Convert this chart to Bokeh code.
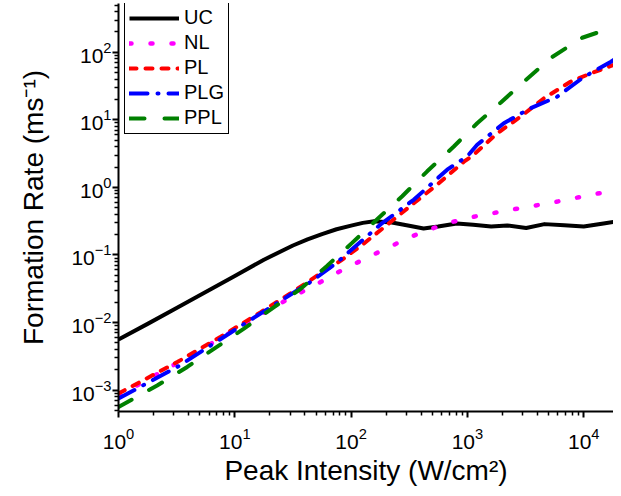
from bokeh.plotting import figure
from bokeh.models import Range1d, FixedTicker, Legend, LegendItem
from bokeh.embed import file_html
from bokeh.resources import INLINE

# ---- data ----
uc_x = [1, 1.78, 3.16, 5.62, 10, 17.8, 31.6, 42.2, 56.2, 75, 100, 126, 158, 224, 300,
        420, 560, 810, 1120, 1600, 2200, 3200, 4600, 6800, 10000, 14800, 20000]
uc_y = [0.00562, 0.00955, 0.0164, 0.0282, 0.049, 0.0851, 0.138, 0.170, 0.204, 0.24,
        0.272, 0.2985, 0.316, 0.302, 0.275, 0.247, 0.263, 0.293, 0.28, 0.263, 0.273,
        0.251, 0.286, 0.275, 0.263, 0.293, 0.316]

nl_x = [1, 2, 4.5, 10, 13, 27, 55, 78, 100, 157, 313, 466, 700, 1050, 2270, 5200,
        11700, 17600, 20000]
nl_y = [0.00083, 0.0016, 0.0035, 0.0078, 0.010, 0.021, 0.040, 0.056, 0.0695, 0.102,
        0.18, 0.237, 0.30, 0.359, 0.46, 0.59, 0.78, 0.89, 0.93]

pl_x = [1, 3.2, 7.5, 16.6, 30, 62, 81, 129, 211, 335, 550, 933, 1122, 1800, 2860,
        4540, 7690, 11430, 19400, 20000]
pl_y = [0.00089, 0.0026, 0.0061, 0.0141, 0.0269, 0.0617, 0.0817, 0.148, 0.293, 0.558,
        1.1, 2.4, 3.0, 6.3, 11.1, 20.8, 36.6, 48.5, 68, 69]

plg_x = [1, 3.2, 12, 45, 76, 179, 347, 670, 995, 1213, 2056, 3467, 5890, 10000,
         17000, 20000]
plg_y = [0.00075, 0.0022, 0.0095, 0.040, 0.078, 0.283, 0.66, 1.83, 2.87, 4.27, 8.9,
         14.8, 21.9, 43, 72, 85]

ppl_x = [1, 2.15, 3.9, 7.06, 11.9, 21.6, 36.7, 62, 102, 173, 275, 451, 764, 1213,
         1928, 3162, 5358, 9705, 14125, 20000]
ppl_y = [0.00056, 0.00117, 0.0022, 0.0044, 0.00805, 0.0168, 0.0313, 0.0689, 0.151,
         0.355, 0.74, 1.73, 4.03, 8.9, 17.9, 38.7, 85, 164, 204, 188]

x_major = [1, 10, 100, 1000, 10000]
y_major = [1e-3, 1e-2, 1e-1, 1, 10, 100]

FONT = "Liberation Sans"

p = figure(width=613, height=488, x_axis_type="log", y_axis_type="log",
           x_range=Range1d(1, 18030), y_range=Range1d(4.82e-4, 527),
           output_backend="svg", toolbar_location=None,
           min_border_left=118, min_border_right=0, min_border_top=3,
           min_border_bottom=75)
p.xgrid.visible = False
p.ygrid.visible = False
p.outline_line_color = None
p.background_fill_color = "white"
p.border_fill_color = "white"

x_minor = [k * d for d in x_major for k in range(2, 10)]
y_minor = [k * d for d in [1e-4] + y_major for k in range(2, 10)]
p.xaxis.ticker = FixedTicker(ticks=x_major, minor_ticks=x_minor)
p.yaxis.ticker = FixedTicker(ticks=y_major, minor_ticks=y_minor)

for ax in (p.xaxis[0], p.yaxis[0]):
    ax.axis_line_width = 2
    ax.axis_line_color = "black"
    ax.major_tick_line_width = 2
    ax.minor_tick_line_width = 1.5
    ax.major_tick_in = 0
    ax.major_tick_out = 6
    ax.minor_tick_in = 0
    ax.minor_tick_out = 4
    ax.major_label_text_font = FONT
    ax.major_label_text_font_size = "21px"
    ax.major_label_text_color = "black"
    ax.axis_label_text_font = FONT
    ax.axis_label_text_font_size = "28px"
    ax.axis_label_text_font_style = "normal"
    ax.axis_label_text_color = "black"

p.xaxis.axis_label = "Peak Intensity (W/cm²)"
p.yaxis.axis_label = "Formation Rate (ms⁻¹)"
p.xaxis.major_label_standoff = 10
p.yaxis.major_label_standoff = 1
p.xaxis.axis_label_standoff = 3
p.yaxis.axis_label_standoff = 19

r_uc = p.line(uc_x, uc_y, line_color="black", line_width=4, line_join="round")
r_nl = p.line(nl_x, nl_y, line_color="#FF00FF", line_width=4.5, line_dash="2 19",
              line_cap="round")
r_pl = p.line(pl_x, pl_y, line_color="#FF0000", line_width=4, line_dash="7 9",
              line_cap="round")
r_plg = p.line(plg_x, plg_y, line_color="#0000FF", line_width=4,
               line_dash="18 10 1 10", line_cap="round")
r_ppl = p.line(ppl_x, ppl_y, line_color="#008000", line_width=4, line_dash="15 20",
               line_cap="round")

legend = Legend(items=[LegendItem(label="UC", renderers=[r_uc]),
                       LegendItem(label="NL", renderers=[r_nl]),
                       LegendItem(label="PL", renderers=[r_pl]),
                       LegendItem(label="PLG", renderers=[r_plg]),
                       LegendItem(label="PPL", renderers=[r_ppl])],
                location=(6, 277))
legend.label_text_font = FONT
legend.label_text_font_size = "20px"
legend.label_text_color = "black"
legend.glyph_width = 50
legend.glyph_height = 22
legend.label_height = 22
legend.spacing = 2
legend.padding = 4
legend.margin = 0
legend.label_standoff = 5
legend.border_line_color = "black"
legend.border_line_width = 1
legend.border_line_alpha = 1
legend.background_fill_alpha = 1
p.add_layout(legend)

open("out.html", "w").write(file_html(p, INLINE))
